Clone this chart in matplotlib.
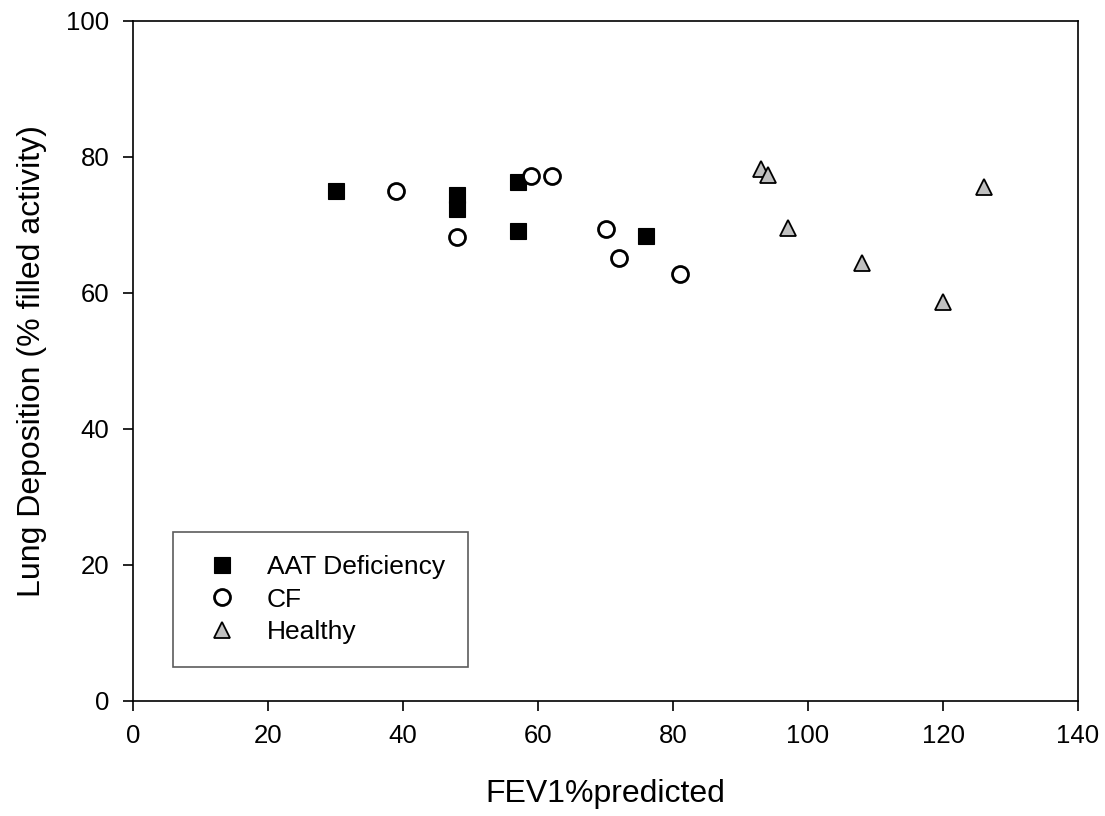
import matplotlib
matplotlib.use('Agg')
import matplotlib.pyplot as plt

plt.rcParams['font.family'] = ['Liberation Sans', 'DejaVu Sans']

# AAT deficiency patients
aat_fev1 = [30, 48, 48, 57, 57, 76]
aat_dep = [75.0, 74.4, 72.3, 76.3, 69.1, 68.4]

# CF patients
cf_fev1 = [39, 48, 59, 62, 70, 72, 81]
cf_dep = [74.9, 68.2, 77.1, 77.1, 69.3, 65.1, 62.8]

# Healthy volunteers
healthy_fev1 = [93, 94, 97, 108, 120, 126]
healthy_dep = [78.2, 77.3, 69.5, 64.3, 58.6, 75.6]

fig = plt.figure(figsize=(11.05, 8.16), dpi=100)
ax = fig.add_axes([0.1204, 0.1413, 0.8552, 0.8333])

ax.plot(aat_fev1, aat_dep, linestyle='none', marker='s', markersize=11,
        color='black', markeredgewidth=0.8, label='AAT Deficiency')
ax.plot(cf_fev1, cf_dep, linestyle='none', marker='o', markersize=11.5,
        markerfacecolor='white', markeredgecolor='black', markeredgewidth=2,
        label='CF')
ax.plot(healthy_fev1, healthy_dep, linestyle='none', marker='^', markersize=11.5,
        markerfacecolor='#c0c0c0', markeredgecolor='black', markeredgewidth=1.3,
        label='Healthy')

ax.set_xlim(0, 140)
ax.set_ylim(0, 100)
ax.set_xticks(range(0, 141, 20))
ax.set_yticks(range(0, 101, 20))
ax.tick_params(direction='out', length=7, width=1.2, labelsize=18.5, pad=10,
               top=False, right=False)
for s in ax.spines.values():
    s.set_linewidth(1.2)

ax.set_xlabel('FEV1%predicted', fontsize=23, labelpad=22)
ax.set_ylabel('Lung Deposition (% filled activity)', fontsize=23, labelpad=14)

# legend box in the lower left corner
leg = ax.legend(loc='lower left', bbox_to_anchor=(0.0426, 0.05), borderaxespad=0,
                fancybox=False, fontsize=19, handlelength=2.0,
                handletextpad=0.7, borderpad=0.85, labelspacing=0.33)
leg.get_frame().set_edgecolor('#333333')
leg.get_frame().set_linewidth(1.2)

fig.savefig('out.png', dpi=100)
